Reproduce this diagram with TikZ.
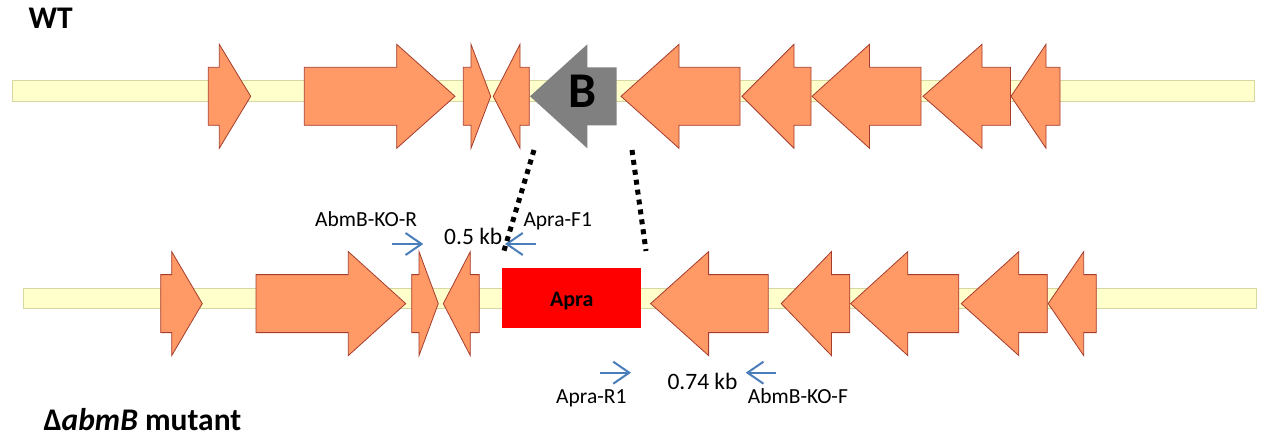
\documentclass[tikz,border=0pt]{standalone}
\usepackage{fontspec}
\setmainfont{Carlito}
\usetikzlibrary{arrows.meta}
\definecolor{genefill}{RGB}{255,153,102}
\definecolor{geneline}{RGB}{165,60,45}
\definecolor{barfill}{RGB}{255,255,204}
\definecolor{barline}{RGB}{215,215,160}
\definecolor{primer}{RGB}{74,126,187}
\definecolor{bgray}{RGB}{128,128,128}
\tikzset{
  gene/.style={fill=genefill,draw=geneline,line width=0.8pt,line join=miter},
  deleted/.style={fill=bgray,draw=none},
  bar/.style={fill=barfill,draw=barline,line width=1pt},
  primerarrow/.style={draw=primer,line width=2pt,-{Straight Barb[length=16pt,width=22pt]}},
  lbl/.style={font=\fontsize{21.5}{25}\selectfont,inner sep=0pt},
  kblbl/.style={font=\fontsize{23.5}{27}\selectfont,inner sep=0pt},
  title/.style={font=\fontsize{31.5}{36}\selectfont\bfseries,inner sep=0pt},
  dotline/.style={line width=5pt,dash pattern=on 5pt off 5pt}
}
% #1 body end x, #2 head base x, #3 tip x, #4 centre y, #5 style
\newcommand\genearrow[5]{%
  \draw[#5] (#1,#4-29) -- (#2,#4-29) -- (#2,#4-52) -- (#3,#4) -- (#2,#4+52)
    -- (#2,#4+29) -- (#1,#4+29) -- cycle;}
\begin{document}
\begin{tikzpicture}[x=1pt,y=-1pt]
\useasboundingbox (0,0) rectangle (1264,436);
% ---- WT ----
\node[title,anchor=base west] (wt) at (28.3,28.3) {WT};
\draw[bar] (12.3,81) rectangle (1254,101);
\genearrow{208.3}{219.3}{250.7}{96.3}{gene}
\genearrow{304.3}{396.7}{455}{96.3}{gene}
\genearrow{463.3}{471}{490.7}{96.3}{gene}
\genearrow{529.3}{520}{493.3}{96.3}{gene}
\genearrow{616.7}{587.3}{530}{96.3}{deleted}
\genearrow{740}{679}{621}{96.3}{gene}
\genearrow{811}{794}{742}{96.3}{gene}
\genearrow{921}{869.5}{812}{96.3}{gene}
\genearrow{1010.5}{982}{923}{96.3}{gene}
\genearrow{1060}{1046}{1011}{96.3}{gene}
\node[font=\fontsize{50}{54}\selectfont\bfseries,inner sep=0pt,anchor=base] (B) at (583,107.3) {B};
% ---- mutant ----
\draw[bar] (23.3,288.3) rectangle (1256,308.3);
\genearrow{160.7}{171.7}{202.3}{303.6}{gene}
\genearrow{256}{348.3}{405.7}{303.6}{gene}
\genearrow{411.7}{419}{438.3}{303.6}{gene}
\genearrow{479.3}{470.3}{443.3}{303.6}{gene}
\genearrow{768.2}{708.6}{650.6}{303.6}{gene}
\genearrow{849.8}{831.4}{781.2}{303.6}{gene}
\genearrow{958.8}{907.8}{850.6}{303.6}{gene}
\genearrow{1047.3}{1018.8}{961.2}{303.6}{gene}
\genearrow{1096.3}{1083.7}{1048.2}{303.6}{gene}
\fill[red] (502,268.3) rectangle (640.7,327.7);
\node[font=\fontsize{22}{26}\selectfont\bfseries,inner sep=0pt,anchor=base] (apra) at (571.7,306) {Apra};
\node[title,anchor=base west] (mut) at (43.3,430) {Δ\textit{abmB} mutant};
% ---- primers ----
\node[lbl,anchor=base west] (kor) at (315,226.7) {AbmB-KO-R};
\node[lbl,anchor=base west] (f1) at (523.3,226.7) {Apra-F1};
\node[kblbl,anchor=base west] (kb05) at (444,244) {0.5 kb};
\node[lbl,anchor=base west] (r1) at (556,403.3) {Apra-R1};
\node[kblbl,anchor=base west] (kb074) at (667.3,389.3) {0.74 kb};
\node[lbl,anchor=base west] (kof) at (747.7,403.3) {AbmB-KO-F};
\coordinate (korA) at (391.7,244); \coordinate (korB) at (423.3,244);
\coordinate (f1A) at (536,244);    \coordinate (f1B) at (505,244);
\coordinate (r1A) at (600,372.7);  \coordinate (r1B) at (631,372.7);
\coordinate (kofA) at (776,372.7); \coordinate (kofB) at (745.7,372.7);
\draw[primerarrow] (korA) -- (korB);
\draw[primerarrow] (f1A) -- (f1B);
\draw[primerarrow] (r1A) -- (r1B);
\draw[primerarrow] (kofA) -- (kofB);
% ---- dotted lines ----
\coordinate (d1a) at (534,150); \coordinate (d1b) at (503,254);
\coordinate (d2a) at (632,150); \coordinate (d2b) at (646,251);
\draw[dotline] (d1a) -- (d1b);
\draw[dotline] (d2a) -- (d2b);
\end{tikzpicture}
\end{document}
